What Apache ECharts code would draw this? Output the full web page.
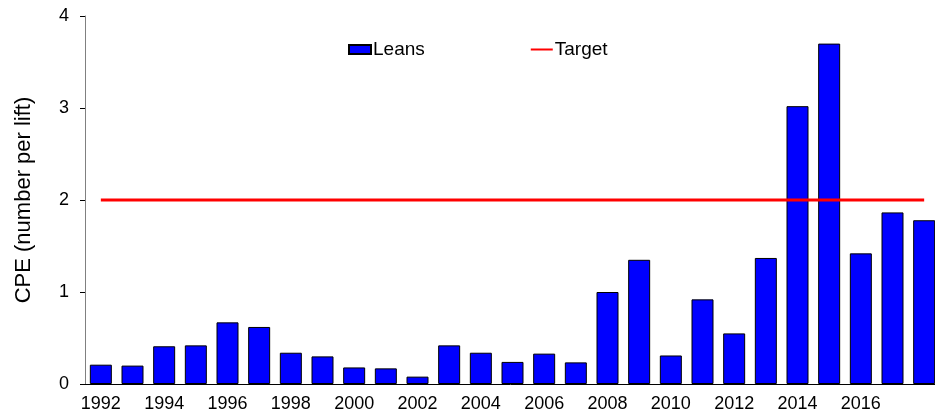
<!DOCTYPE html>
<html>
<head>
<meta charset="utf-8">
<script src="https://cdn.jsdelivr.net/npm/echarts@6/dist/echarts.min.js"></script>
<style>
  html, body { margin: 0; padding: 0; background: #fff; }
  #chart { width: 935px; height: 415px; }
</style>
</head>
<body>
<div id="chart"></div>
<script>
// years on the x axis
var years = ['1992','1993','1994','1995','1996','1997','1998','1999','2000','2001',
             '2002','2003','2004','2005','2006','2007','2008','2009','2010','2011',
             '2012','2013','2014','2015','2016','2017','2018'];
// CPE for leans
var leans = [0.21, 0.20, 0.41, 0.42, 0.67, 0.62, 0.34, 0.30, 0.18, 0.17,
             0.08, 0.42, 0.34, 0.24, 0.33, 0.235, 1.00, 1.35, 0.31, 0.92,
             0.55, 1.37, 3.02, 3.70, 1.42, 1.865, 1.78];
// target level
var target = [2, 2, 2, 2, 2, 2, 2, 2, 2, 2,
              2, 2, 2, 2, 2, 2, 2, 2, 2, 2,
              2, 2, 2, 2, 2, 2, 2];
var yTicks = [0, 1, 2, 3, 4];

var font = 'Arial, "Liberation Sans", sans-serif';
var chart = echarts.init(document.getElementById('chart'));

var option = {
    animation: false,
    backgroundColor: '#fff',
    textStyle: { fontFamily: font, color: '#000' },
    legend: {
        left: 348,
        top: 40,
        padding: 0,
        itemWidth: 22,
        itemHeight: 9,
        itemGap: 105,
        textStyle: { fontFamily: font, fontSize: 19, color: '#000', padding: [0, 0, 0, -3] },
        data: [
            { name: 'Leans', icon: 'rect' },
            { name: 'Target', itemStyle: { opacity: 0 } }
        ]
    },
    grid: {
        left: 85,
        top: 16,
        bottom: 31,
        width: 855,
        outerBoundsMode: 'none'
    },
    xAxis: {
        type: 'category',
        data: years,
        boundaryGap: true,
        axisLine: { lineStyle: { color: '#000', width: 1 } },
        axisTick: { interval: 0, length: 5, lineStyle: { color: '#000' } },
        axisLabel: {
            interval: function (index) { return index % 2 === 0 && index < 26; },
            fontSize: 18,
            color: '#000',
            fontFamily: font,
            margin: 11
        },
        splitLine: { show: false }
    },
    yAxis: {
        type: 'value',
        min: yTicks[0],
        max: yTicks[yTicks.length - 1],
        interval: 1,
        name: 'CPE (number per lift)',
        nameLocation: 'middle',
        nameGap: 50,
        nameTextStyle: { fontSize: 22, color: '#000', fontFamily: font },
        axisLine: { show: true, lineStyle: { color: '#808080', width: 1 } },
        axisTick: { show: true, length: 5, lineStyle: { color: '#000' } },
        axisLabel: { fontSize: 18, color: '#000', fontFamily: font, margin: 16 },
        splitLine: { show: false }
    },
    series: [
        {
            name: 'Leans',
            type: 'bar',
            data: leans,
            barWidth: 22,
            itemStyle: { color: '#0000ff', borderColor: '#000', borderWidth: 1 }
        },
        {
            name: 'Target',
            type: 'line',
            data: target,
            symbol: 'none',
            lineStyle: { color: '#ff0000', width: 3 },
            itemStyle: { color: '#ff0000' },
            z: 5
        }
    ]
};

chart.setOption(option);
</script>
</body>
</html>
